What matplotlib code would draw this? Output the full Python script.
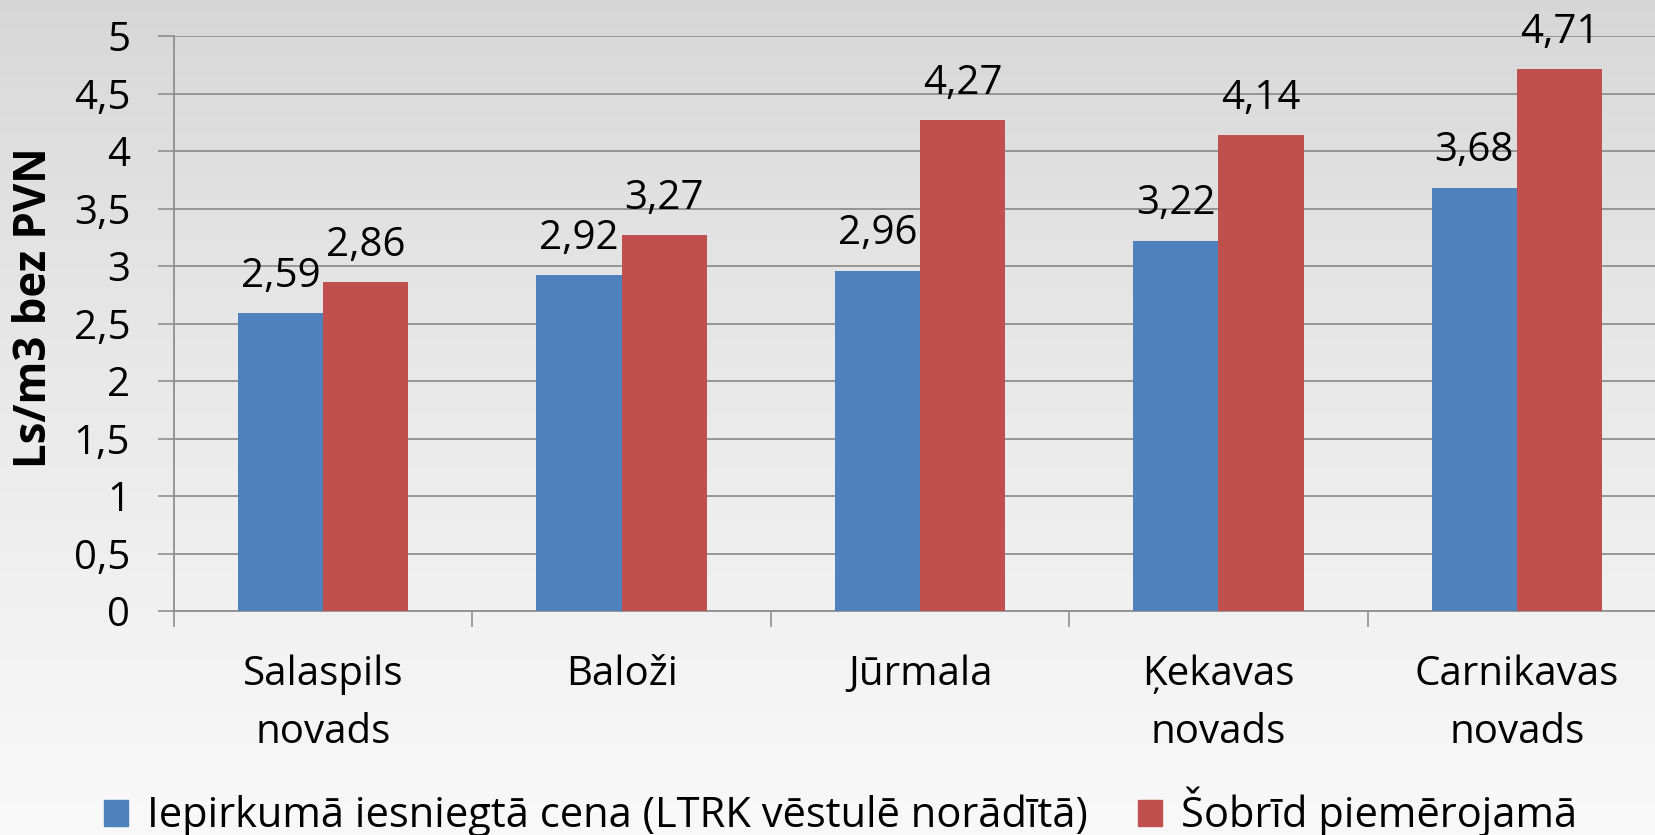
import numpy as np
import matplotlib
matplotlib.use("Agg")
import matplotlib.pyplot as plt
from matplotlib.patches import Patch

categories = ["Salaspils\nnovads", "Baloži", "Jūrmala", "Ķekavas\nnovads", "Carnikavas\nnovads"]
series_names = ["Iepirkumā iesniegtā cena (LTRK vēstulē norādītā)", "Šobrīd piemērojamā"]
values_a = [2.59, 2.92, 2.96, 3.22, 3.68]
values_b = [2.86, 3.27, 4.27, 4.14, 4.71]
yticks = [0, 0.5, 1, 1.5, 2, 2.5, 3, 3.5, 4, 4.5, 5]
ylabel = "Ls/m3 bez PVN"

BLUE = "#4F81BD"
RED = "#C0504D"
FONT = "Open Sans"

plt.rcParams['font.family'] = [FONT, 'DejaVu Sans']

W, H = 1655, 835
fig = plt.figure(figsize=(W / 100, H / 100), dpi=100)

# background gradient
bg = fig.add_axes([0, 0, 1, 1], zorder=-10)
grad = np.linspace(0, 1, 256).reshape(-1, 1)
top = np.array([214, 214, 214]) / 255
bot = np.array([249, 249, 249]) / 255
t = grad ** 0.8
img = top[None, None, :] * (1 - t[..., None]) + bot[None, None, :] * t[..., None]
bg.imshow(img, aspect='auto', extent=[0, 1, 0, 1], origin='upper')
bg.set_axis_off()

left_px, right_px = 174, 1666
bottom_px, top_px = 611, 36
ax = fig.add_axes([left_px / W, (H - bottom_px) / H, (right_px - left_px) / W, (bottom_px - top_px) / H])
ax.patch.set_alpha(0)

n = len(categories)
x = np.arange(n)
bw = 1 / 3.5
ax.bar(x - bw / 2, values_a, width=bw, color=BLUE, zorder=3, label=series_names[0])
ax.bar(x + bw / 2, values_b, width=bw, color=RED, zorder=3, label=series_names[1])

fs = 29
for xi, v in zip(x - bw / 2, values_a):
    ax.annotate(f"{v:.2f}".replace(".", ","), xy=(xi, v), xytext=(0, 19), textcoords='offset points',
                ha='center', va='baseline', fontsize=fs, zorder=5)
for xi, v in zip(x + bw / 2, values_b):
    ax.annotate(f"{v:.2f}".replace(".", ","), xy=(xi, v), xytext=(0, 19), textcoords='offset points',
                ha='center', va='baseline', fontsize=fs, zorder=5)

ax.set_xlim(-0.5, n - 0.5)
ax.set_ylim(0, 5)
ax.set_yticks(yticks)
ax.set_yticklabels([f"{v:g}".replace(".", ",") for v in yticks], fontsize=fs)
ax.yaxis.grid(True, color="#8f8f8f", linewidth=1.3, zorder=0)
ax.set_axisbelow(True)

ax.set_xticks(np.arange(n + 1) - 0.5)
ax.set_xticklabels([])
ax.set_xticks(x, minor=True)
ax.set_xticklabels(categories, minor=True, fontsize=fs, linespacing=1.6)
ax.tick_params(axis='x', which='major', length=11.5, width=1.2, color="#8f8f8f", direction='out')
ax.tick_params(axis='x', which='minor', length=0, pad=31)
ax.tick_params(axis='y', which='major', length=11.5, width=1.2, color="#8f8f8f", pad=20, direction='out')

for s in ['top', 'right']:
    ax.spines[s].set_visible(False)
for s in ['left', 'bottom']:
    ax.spines[s].set_color("#8f8f8f")
    ax.spines[s].set_linewidth(1.3)

fig.text(35 / W, (H - 308) / H, ylabel, rotation=90, ha='center', va='center', fontsize=31.5, fontweight='bold')

handles = [Patch(color=BLUE), Patch(color=RED)]
fig.legend(handles, series_names, loc='center left', bbox_to_anchor=(104 / W, (H - 812) / H), ncol=2,
           frameon=False, fontsize=30, handlelength=0.58, handleheight=0.58, handletextpad=0.45,
           columnspacing=1.2, borderaxespad=0, borderpad=0)

fig.savefig("out.png", dpi=100)
